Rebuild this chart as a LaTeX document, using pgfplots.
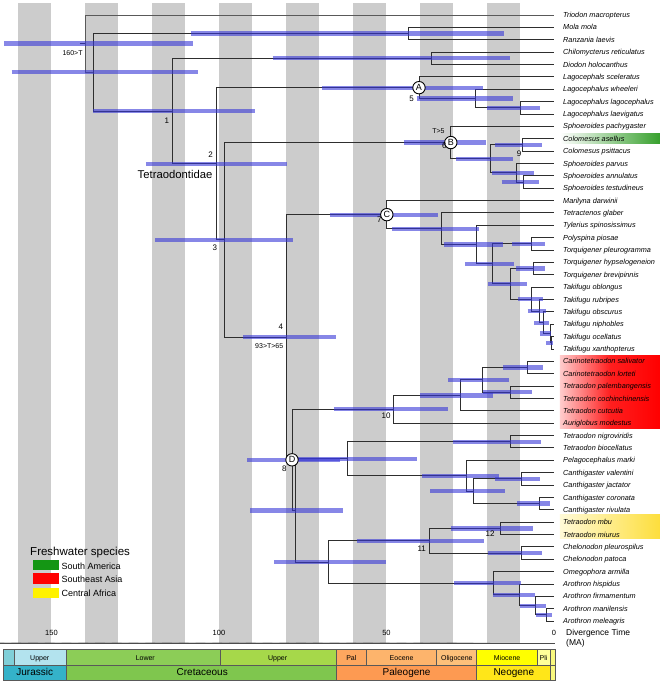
\documentclass[border=0pt]{standalone}
\usepackage{pgfplots}
\pgfplotsset{compat=1.18}
\usepackage{fontspec}
\setmainfont{Liberation Sans}
\definecolor{barblue}{RGB}{55,55,215}
\definecolor{mjur}{HTML}{80CFD8}
\definecolor{ujur}{HTML}{B3E3EE}
\definecolor{jur}{HTML}{34B2C9}
\definecolor{lk}{HTML}{8CCD57}
\definecolor{uk}{HTML}{A6D84A}
\definecolor{kk}{HTML}{7FC64E}
\definecolor{pal}{HTML}{FDA75F}
\definecolor{eoc}{HTML}{FDB46C}
\definecolor{oli}{HTML}{FDC07A}
\definecolor{pg}{HTML}{FD9A52}
\definecolor{mio}{HTML}{FFFF00}
\definecolor{pli}{HTML}{FFFF99}
\definecolor{ng}{HTML}{FFE619}
\definecolor{qq}{HTML}{F9F97F}
\definecolor{gsa}{RGB}{55,160,45}
\definecolor{legg}{RGB}{20,150,20}
\definecolor{yl}{RGB}{255,250,215}
\definecolor{yr}{RGB}{253,222,60}
\begin{document}
\begin{tikzpicture}[
  br/.style={black!82, line width=0.9pt},
  ci/.style={barblue, line width=4.3pt, opacity=0.6},
  tax/.style={anchor=base west, inner sep=0pt, font=\fontsize{7.3}{8}\selectfont\itshape, yshift=-2.6pt},
  num/.style={anchor=base, inner sep=0pt, font=\fontsize{8}{9}\selectfont},
  cal/.style={anchor=base, inner sep=0pt, font=\fontsize{7}{8}\selectfont},
  ts/.style={draw=black!65, line width=0.5pt},
  t1/.style={anchor=base, inner sep=0pt, font=\fontsize{7}{8}\selectfont},
  t2/.style={anchor=base, inner sep=0pt, font=\fontsize{10}{11}\selectfont},
  let/.style={inner sep=0pt, font=\fontsize{9}{9}\selectfont},
]
\begin{axis}[
  width=661pt, height=684pt, scale only axis,
  xmin=-31.94, xmax=165.37, x dir=reverse,
  ymin=-0.2126, ymax=55.083, y dir=reverse,
  hide axis, clip=false,
]
% gray bands
\pgfplotsinvokeforeach{10,30,50,70,90,110,130,150}{
  \addplot[fill=black!20, draw=none] coordinates {(#1,0.03) (#1+10,0.03) (#1+10,51.77) (#1,51.77)} -- cycle;
}
% highlight boxes
\shade[left color=white, right color=gsa] (axis cs:-1.79,10.62) rectangle (axis cs:-31.64,11.37);
\shade[left color=red!20, right color=red, middle color=red!88] (axis cs:-1.79,28.49) rectangle (axis cs:-31.64,34.41);
\shade[left color=yl, right color=yr] (axis cs:-1.79,41.36) rectangle (axis cs:-31.64,43.30);

% tree branches
\addplot[br] coordinates {(141.5,3.316) (139.8,3.316)};
\addplot[br, black!65] coordinates {(0,1) (139.8,1) (139.8,5.632) (137.5,5.632)};
\addplot[br] coordinates {(43.5,2.5) (137.5,2.5) (137.5,8.764) (113.9,8.764)};
\addplot[br] coordinates {(0,2) (43.5,2) (43.5,3) (0,3)};
\addplot[br] coordinates {(36.7,4.5) (113.9,4.5) (113.9,13.03) (100.7,13.03)};
\addplot[br] coordinates {(0,4) (36.7,4) (36.7,5) (0,5)};
\addplot[br] coordinates {(40.3,6.875) (100.7,6.875) (100.7,19.18) (98.4,19.18)};
\addplot[br] coordinates {(0,6) (40.3,6) (40.3,7.75) (23.4,7.75)};
\addplot[br] coordinates {(0,7) (23.4,7) (23.4,8.5) (10.1,8.5)};
\addplot[br] coordinates {(0,8) (10.1,8) (10.1,9) (0,9)};
\addplot[br] coordinates {(30.8,11.3125) (98.4,11.3125) (98.4,27.05) (79.8,27.05)};
\addplot[br] coordinates {(0,10) (30.8,10) (30.8,12.625) (19.1,12.625)};
\addplot[br] coordinates {(9.3,11.5) (19.1,11.5) (19.1,13.75) (11.3,13.75)};
\addplot[br] coordinates {(0,11) (9.3,11) (9.3,12) (0,12)};
\addplot[br] coordinates {(0,13) (11.3,13) (11.3,14.5) (9.0,14.5)};
\addplot[br] coordinates {(0,14) (9.0,14) (9.0,15) (0,15)};
\addplot[br] coordinates {(49.9,17.14) (79.8,17.14) (79.8,36.961) (78.2,36.961)};
\addplot[br] coordinates {(0,16) (49.9,16) (49.9,18.279) (33.5,18.279)};
\addplot[br] coordinates {(0,17) (33.5,17) (33.5,19.559) (23.1,19.559)};
\addplot[br] coordinates {(0,18) (23.1,18) (23.1,21.117) (18.4,21.117)};
\addplot[br] coordinates {(6.7,19.5) (18.4,19.5) (18.4,22.734) (12.9,22.734)};
\addplot[br] coordinates {(0,19) (6.7,19) (6.7,20) (0,20)};
\addplot[br] coordinates {(6.2,21.5) (12.9,21.5) (12.9,23.969) (6.7,23.969)};
\addplot[br] coordinates {(0,21) (6.2,21) (6.2,22) (0,22)};
\addplot[br] coordinates {(0,23) (6.7,23) (6.7,24.9375) (4.2,24.9375)};
\addplot[br] coordinates {(0,24) (4.2,24) (4.2,25.875) (3.0,25.875)};
\addplot[br] coordinates {(0,25) (3.0,25) (3.0,26.75) (1.2,26.75)};
\addplot[br] coordinates {(0,26) (1.2,26) (1.2,27.5) (0.7,27.5)};
\addplot[br] coordinates {(0,27) (0.7,27) (0.7,28) (0,28)};
\addplot[br] coordinates {(48.0,32.875) (78.2,32.875) (78.2,41.047) (77.3,41.047)};
\addplot[br] coordinates {(27.9,31.75) (48.0,31.75) (48.0,34) (0,34)};
\addplot[br] coordinates {(21.4,30.5) (27.9,30.5) (27.9,33) (0,33)};
\addplot[br] coordinates {(8.0,29.5) (21.4,29.5) (21.4,31.5) (12.9,31.5)};
\addplot[br] coordinates {(0,29) (8.0,29) (8.0,30) (0,30)};
\addplot[br] coordinates {(0,31) (12.9,31) (12.9,32) (0,32)};
\addplot[br] coordinates {(61.7,36.875) (77.3,36.875) (77.3,45.219) (67.4,45.219)};
\addplot[br] coordinates {(13.1,35.5) (61.7,35.5) (61.7,38.25) (26.1,38.25)};
\addplot[br] coordinates {(0,35) (13.1,35) (13.1,36) (0,36)};
\addplot[br] coordinates {(0,37) (26.1,37) (26.1,39.5) (24.1,39.5)};
\addplot[br] coordinates {(9.6,38.5) (24.1,38.5) (24.1,40.5) (4.4,40.5)};
\addplot[br] coordinates {(0,38) (9.6,38) (9.6,39) (0,39)};
\addplot[br] coordinates {(0,40) (4.4,40) (4.4,41) (0,41)};
\addplot[br] coordinates {(37.2,43.5) (67.4,43.5) (67.4,46.9375) (18.1,46.9375)};
\addplot[br] coordinates {(16.1,42.5) (37.2,42.5) (37.2,44.5) (9.6,44.5)};
\addplot[br] coordinates {(0,42) (16.1,42) (16.1,43) (0,43)};
\addplot[br] coordinates {(0,44) (9.6,44) (9.6,45) (0,45)};
\addplot[br] coordinates {(0,46) (18.1,46) (18.1,47.875) (10.4,47.875)};
\addplot[br] coordinates {(0,47) (10.4,47) (10.4,48.75) (5.5,48.75)};
\addplot[br] coordinates {(0,48) (5.5,48) (5.5,49.5) (2.4,49.5)};
\addplot[br] coordinates {(0,49) (2.4,49) (2.4,50) (0,50)};

% confidence bars
\addplot[ci] coordinates {(164.2,3.316) (107.8,3.316)};
\addplot[ci] coordinates {(161.9,5.632) (106.3,5.632)};
\addplot[ci] coordinates {(108.4,2.5) (15.0,2.5)};
\addplot[ci] coordinates {(137.5,8.764) (89.3,8.764)};
\addplot[ci] coordinates {(84.0,4.5) (13.1,4.5)};
\addplot[ci] coordinates {(121.8,13.03) (79.6,13.03)};
\addplot[ci] coordinates {(69.3,6.875) (21.1,6.875)};
\addplot[ci] coordinates {(41.0,7.75) (12.1,7.75)};
\addplot[ci] coordinates {(19.9,8.5) (4.2,8.5)};
\addplot[ci] coordinates {(119.1,19.18) (77.8,19.18)};
\addplot[ci] coordinates {(44.8,11.3125) (20.4,11.3125)};
\addplot[ci] coordinates {(29.3,12.625) (12.2,12.625)};
\addplot[ci] coordinates {(17.6,11.5) (3.7,11.5)};
\addplot[ci] coordinates {(18.4,13.75) (6.0,13.75)};
\addplot[ci] coordinates {(15.6,14.5) (4.4,14.5)};
\addplot[ci] coordinates {(92.7,27.05) (65.1,27.05)};
\addplot[ci] coordinates {(66.9,17.14) (34.5,17.14)};
\addplot[ci] coordinates {(48.4,18.279) (22.4,18.279)};
\addplot[ci] coordinates {(32.7,19.559) (15.3,19.559)};
\addplot[ci] coordinates {(26.6,21.117) (11.9,21.117)};
\addplot[ci] coordinates {(12.6,19.5) (2.7,19.5)};
\addplot[ci] coordinates {(19.6,22.734) (8.0,22.734)};
\addplot[ci] coordinates {(11.3,21.5) (2.7,21.5)};
\addplot[ci] coordinates {(10.7,23.969) (3.4,23.969)};
\addplot[ci] coordinates {(7.9,24.9375) (2.4,24.9375)};
\addplot[ci] coordinates {(5.9,25.875) (1.5,25.875)};
\addplot[ci] coordinates {(4.2,26.75) (0.9,26.75)};
\addplot[ci] coordinates {(2.4,27.5) (0.2,27.5)};
\addplot[ci] coordinates {(91.6,36.961) (63.9,36.961)};
\addplot[ci] coordinates {(65.7,32.875) (31.6,32.875)};
\addplot[ci] coordinates {(40.0,31.75) (18.3,31.75)};
\addplot[ci] coordinates {(31.6,30.5) (13.4,30.5)};
\addplot[ci] coordinates {(15.1,29.5) (3.2,29.5)};
\addplot[ci] coordinates {(21.1,31.5) (6.7,31.5)};
\addplot[ci] coordinates {(90.7,41.047) (62.9,41.047)};
\addplot[ci] coordinates {(78.8,36.875) (40.8,36.875)};
\addplot[ci] coordinates {(30.2,35.5) (4.0,35.5)};
\addplot[ci] coordinates {(39.3,38.25) (16.3,38.25)};
\addplot[ci] coordinates {(37.0,39.5) (14.6,39.5)};
\addplot[ci] coordinates {(17.6,38.5) (4.2,38.5)};
\addplot[ci] coordinates {(11.0,40.5) (1.2,40.5)};
\addplot[ci] coordinates {(83.5,45.219) (50.2,45.219)};
\addplot[ci] coordinates {(58.9,43.5) (20.8,43.5)};
\addplot[ci] coordinates {(30.7,42.5) (6.2,42.5)};
\addplot[ci] coordinates {(19.6,44.5) (3.7,44.5)};
\addplot[ci] coordinates {(29.9,46.9375) (9.9,46.9375)};
\addplot[ci] coordinates {(18.1,47.875) (5.7,47.875)};
\addplot[ci] coordinates {(10.1,48.75) (2.4,48.75)};
\addplot[ci] coordinates {(5.4,49.5) (0.7,49.5)};

% lettered nodes (circles)
\addplot[only marks, mark=*, mark size=6.2pt, mark options={fill=white, draw=black, line width=0.9pt}] coordinates {(40.3,6.875) (30.8,11.3125) (49.9,17.14) (78.2,36.961)};
\coordinate (cA) at (axis cs:40.3,6.875);
\coordinate (cB) at (axis cs:30.8,11.3125);
\coordinate (cC) at (axis cs:49.9,17.14);
\coordinate (cD) at (axis cs:78.2,36.961);
\coordinate (n5) at (axis cs:42.5,8.01);
\coordinate (n6) at (axis cs:32.7,11.83);
\coordinate (n7) at (axis cs:52.1,17.79);
\coordinate (n8) at (axis cs:80.5,37.92);

% node numbers and calibrations
\node[num] at (axis cs:115.6,9.76) {1};
\node[num] at (axis cs:102.5,12.5) {2};
\node[num] at (axis cs:101.2,20.05) {3};
\node[num] at (axis cs:81.5,26.41) {4};
\node[num] at (axis cs:10.4,12.4) {9};
\node[num] at (axis cs:50.1,33.64) {10};
\node[num] at (axis cs:39.5,44.39) {11};
\node[num] at (axis cs:19.1,43.17) {12};
\node[cal] at (axis cs:143.7,4.31) {160>T};
\node[cal] at (axis cs:85.0,27.94) {93>T>65};
\node[cal] at (axis cs:34.5,10.56) {T>5};
\node[anchor=base, inner sep=0pt, font=\fontsize{11.3}{12}\selectfont] at (axis cs:113.1,14.2) {Tetraodontidae};

% taxa
\node[tax] at (axis cs:-2.69,1) {Triodon macropterus};
\node[tax] at (axis cs:-2.69,2) {Mola mola};
\node[tax] at (axis cs:-2.69,3) {Ranzania laevis};
\node[tax] at (axis cs:-2.69,4) {Chilomycterus reticulatus};
\node[tax] at (axis cs:-2.69,5) {Diodon holocanthus};
\node[tax] at (axis cs:-2.69,6) {Lagocephals sceleratus};
\node[tax] at (axis cs:-2.69,7) {Lagocephalus wheeleri};
\node[tax] at (axis cs:-2.69,8) {Lagocephalus lagocephalus};
\node[tax] at (axis cs:-2.69,9) {Lagocephalus laevigatus};
\node[tax] at (axis cs:-2.69,10) {Sphoeroides pachygaster};
\node[tax] at (axis cs:-2.69,11) {Colomesus asellus};
\node[tax] at (axis cs:-2.69,12) {Colomesus psittacus};
\node[tax] at (axis cs:-2.69,13) {Sphoeroides parvus};
\node[tax] at (axis cs:-2.69,14) {Sphoeroides annulatus};
\node[tax] at (axis cs:-2.69,15) {Sphoeroides testudineus};
\node[tax] at (axis cs:-2.69,16) {Marilyna darwinii};
\node[tax] at (axis cs:-2.69,17) {Tetractenos glaber};
\node[tax] at (axis cs:-2.69,18) {Tylerius spinosissimus};
\node[tax] at (axis cs:-2.69,19) {Polyspina piosae};
\node[tax] at (axis cs:-2.69,20) {Torquigener pleurogramma};
\node[tax] at (axis cs:-2.69,21) {Torquigener hypselogeneion};
\node[tax] at (axis cs:-2.69,22) {Torquigener brevipinnis};
\node[tax] at (axis cs:-2.69,23) {Takifugu oblongus};
\node[tax] at (axis cs:-2.69,24) {Takifugu rubripes};
\node[tax] at (axis cs:-2.69,25) {Takifugu obscurus};
\node[tax] at (axis cs:-2.69,26) {Takifugu niphobles};
\node[tax] at (axis cs:-2.69,27) {Takifugu ocellatus};
\node[tax] at (axis cs:-2.69,28) {Takifugu xanthopterus};
\node[tax] at (axis cs:-2.69,29) {Carinotetraodon salivator};
\node[tax] at (axis cs:-2.69,30) {Carinotetraodon lorteti};
\node[tax] at (axis cs:-2.69,31) {Tetraodon palembangensis};
\node[tax] at (axis cs:-2.69,32) {Tetraodon cochinchinensis};
\node[tax] at (axis cs:-2.69,33) {Tetraodon cutcutia};
\node[tax] at (axis cs:-2.69,34) {Auriglobus modestus};
\node[tax] at (axis cs:-2.69,35) {Tetraodon nigroviridis};
\node[tax] at (axis cs:-2.69,36) {Tetraodon biocellatus};
\node[tax] at (axis cs:-2.69,37) {Pelagocephalus marki};
\node[tax] at (axis cs:-2.69,38) {Canthigaster valentini};
\node[tax] at (axis cs:-2.69,39) {Canthigaster jactator};
\node[tax] at (axis cs:-2.69,40) {Canthigaster coronata};
\node[tax] at (axis cs:-2.69,41) {Canthigaster rivulata};
\node[tax] at (axis cs:-2.69,42) {Tetraodon mbu};
\node[tax] at (axis cs:-2.69,43) {Tetraodon miurus};
\node[tax] at (axis cs:-2.69,44) {Chelonodon pleurospilus};
\node[tax] at (axis cs:-2.69,45) {Chelonodon patoca};
\node[tax] at (axis cs:-2.69,46) {Omegophora armilla};
\node[tax] at (axis cs:-2.69,47) {Arothron hispidus};
\node[tax] at (axis cs:-2.69,48) {Arothron firmamentum};
\node[tax] at (axis cs:-2.69,49) {Arothron manilensis};
\node[tax] at (axis cs:-2.69,50) {Arothron meleagris};

% legend
\node[anchor=base west, inner sep=0pt, font=\fontsize{11.5}{12}\selectfont] at (axis cs:156.4,44.66) {Freshwater species};
\fill[legg] (axis cs:155.4,45.06) rectangle (axis cs:147.7,45.87);
\fill[red] (axis cs:155.4,46.13) rectangle (axis cs:147.7,47.0);
\fill[yellow] (axis cs:155.4,47.3) rectangle (axis cs:147.7,48.16);
\node[anchor=base west, inner sep=0pt, font=\fontsize{9}{10}\selectfont] at (axis cs:147.0,45.81) {South America};
\node[anchor=base west, inner sep=0pt, font=\fontsize{9}{10}\selectfont] at (axis cs:147.0,46.89) {Southeast Asia};
\node[anchor=base west, inner sep=0pt, font=\fontsize{9}{10}\selectfont] at (axis cs:147.0,48.02) {Central Africa};

% time axis
\addplot[black!70, line width=0.8pt] coordinates {(164.5,51.81) (-0.3,51.81)};
\pgfplotsinvokeforeach{0,5,...,160}{
  \draw[black!70, line width=0.6pt] (axis cs:#1,51.81) -- ++(0,3pt);
}
\node[anchor=base, inner sep=0pt, font=\fontsize{7.5}{8}\selectfont] at (axis cs:150,51.18) {150};
\node[anchor=base, inner sep=0pt, font=\fontsize{7.5}{8}\selectfont] at (axis cs:100,51.18) {100};
\node[anchor=base, inner sep=0pt, font=\fontsize{7.5}{8}\selectfont] at (axis cs:50,51.18) {50};
\node[anchor=base, inner sep=0pt, font=\fontsize{7.5}{8}\selectfont] at (axis cs:0,51.18) {0};
\node[anchor=base west, inner sep=0pt, font=\fontsize{8.5}{9}\selectfont] at (axis cs:-3.58,51.2) {Divergence Time};
\node[anchor=base west, inner sep=0pt, font=\fontsize{8.5}{9}\selectfont] at (axis cs:-3.58,51.97) {(MA)};

% geologic time scale
\filldraw[ts, fill=mjur] (axis cs:164.5,52.28) rectangle (axis cs:161.2,53.60);
\filldraw[ts, fill=ujur] (axis cs:161.2,52.28) rectangle (axis cs:145.5,53.60);
\filldraw[ts, fill=lk] (axis cs:145.5,52.28) rectangle (axis cs:99.6,53.60);
\filldraw[ts, fill=uk] (axis cs:99.6,52.28) rectangle (axis cs:65.0,53.60);
\filldraw[ts, fill=pal] (axis cs:65.0,52.28) rectangle (axis cs:56.0,53.60);
\filldraw[ts, fill=eoc] (axis cs:56.0,52.28) rectangle (axis cs:35.0,53.60);
\filldraw[ts, fill=oli] (axis cs:35.0,52.28) rectangle (axis cs:23.1,53.60);
\filldraw[ts, fill=mio] (axis cs:23.1,52.28) rectangle (axis cs:5.0,53.60);
\filldraw[ts, fill=pli] (axis cs:5.0,52.28) rectangle (axis cs:1.2,53.60);
\filldraw[ts, fill=qq] (axis cs:1.2,52.28) rectangle (axis cs:-0.3,53.60);
\filldraw[ts, fill=jur] (axis cs:164.5,53.60) rectangle (axis cs:145.5,54.76);
\filldraw[ts, fill=kk] (axis cs:145.5,53.60) rectangle (axis cs:65.0,54.76);
\filldraw[ts, fill=pg] (axis cs:65.0,53.60) rectangle (axis cs:23.1,54.76);
\filldraw[ts, fill=ng] (axis cs:23.1,53.60) rectangle (axis cs:1.2,54.76);
\filldraw[ts, fill=qq] (axis cs:1.2,53.60) rectangle (axis cs:-0.3,54.76);
\node[t1] at (axis cs:153.5,53.2) {Upper};
\node[t1] at (axis cs:122.0,53.2) {Lower};
\node[t1] at (axis cs:82.5,53.2) {Upper};
\node[t1] at (axis cs:60.5,53.2) {Pal};
\node[t1] at (axis cs:45.5,53.2) {Eocene};
\node[t1] at (axis cs:29.0,53.2) {Oligocene};
\node[t1] at (axis cs:14.0,53.2) {Miocene};
\node[t1] at (axis cs:3.1,53.2) {Pli};
\node[t2] at (axis cs:155.0,54.43) {Jurassic};
\node[t2] at (axis cs:105.0,54.43) {Cretaceous};
\node[t2] at (axis cs:44.0,54.43) {Paleogene};
\node[t2] at (axis cs:12.0,54.43) {Neogene};
\end{axis}
% letters in circles and the numbers beside them, drawn above the markers
\node[let] at (cA) {A};
\node[let] at (cB) {B};
\node[let] at (cC) {C};
\node[let] at (cD) {D};
\node[num] at (n5) {5};
\node[num] at (n6) {6};
\node[num] at (n7) {7};
\node[num] at (n8) {8};
\pgfresetboundingbox
\path[use as bounding box] (current axis.south west) rectangle (current axis.north east);
\end{tikzpicture}
\end{document}
